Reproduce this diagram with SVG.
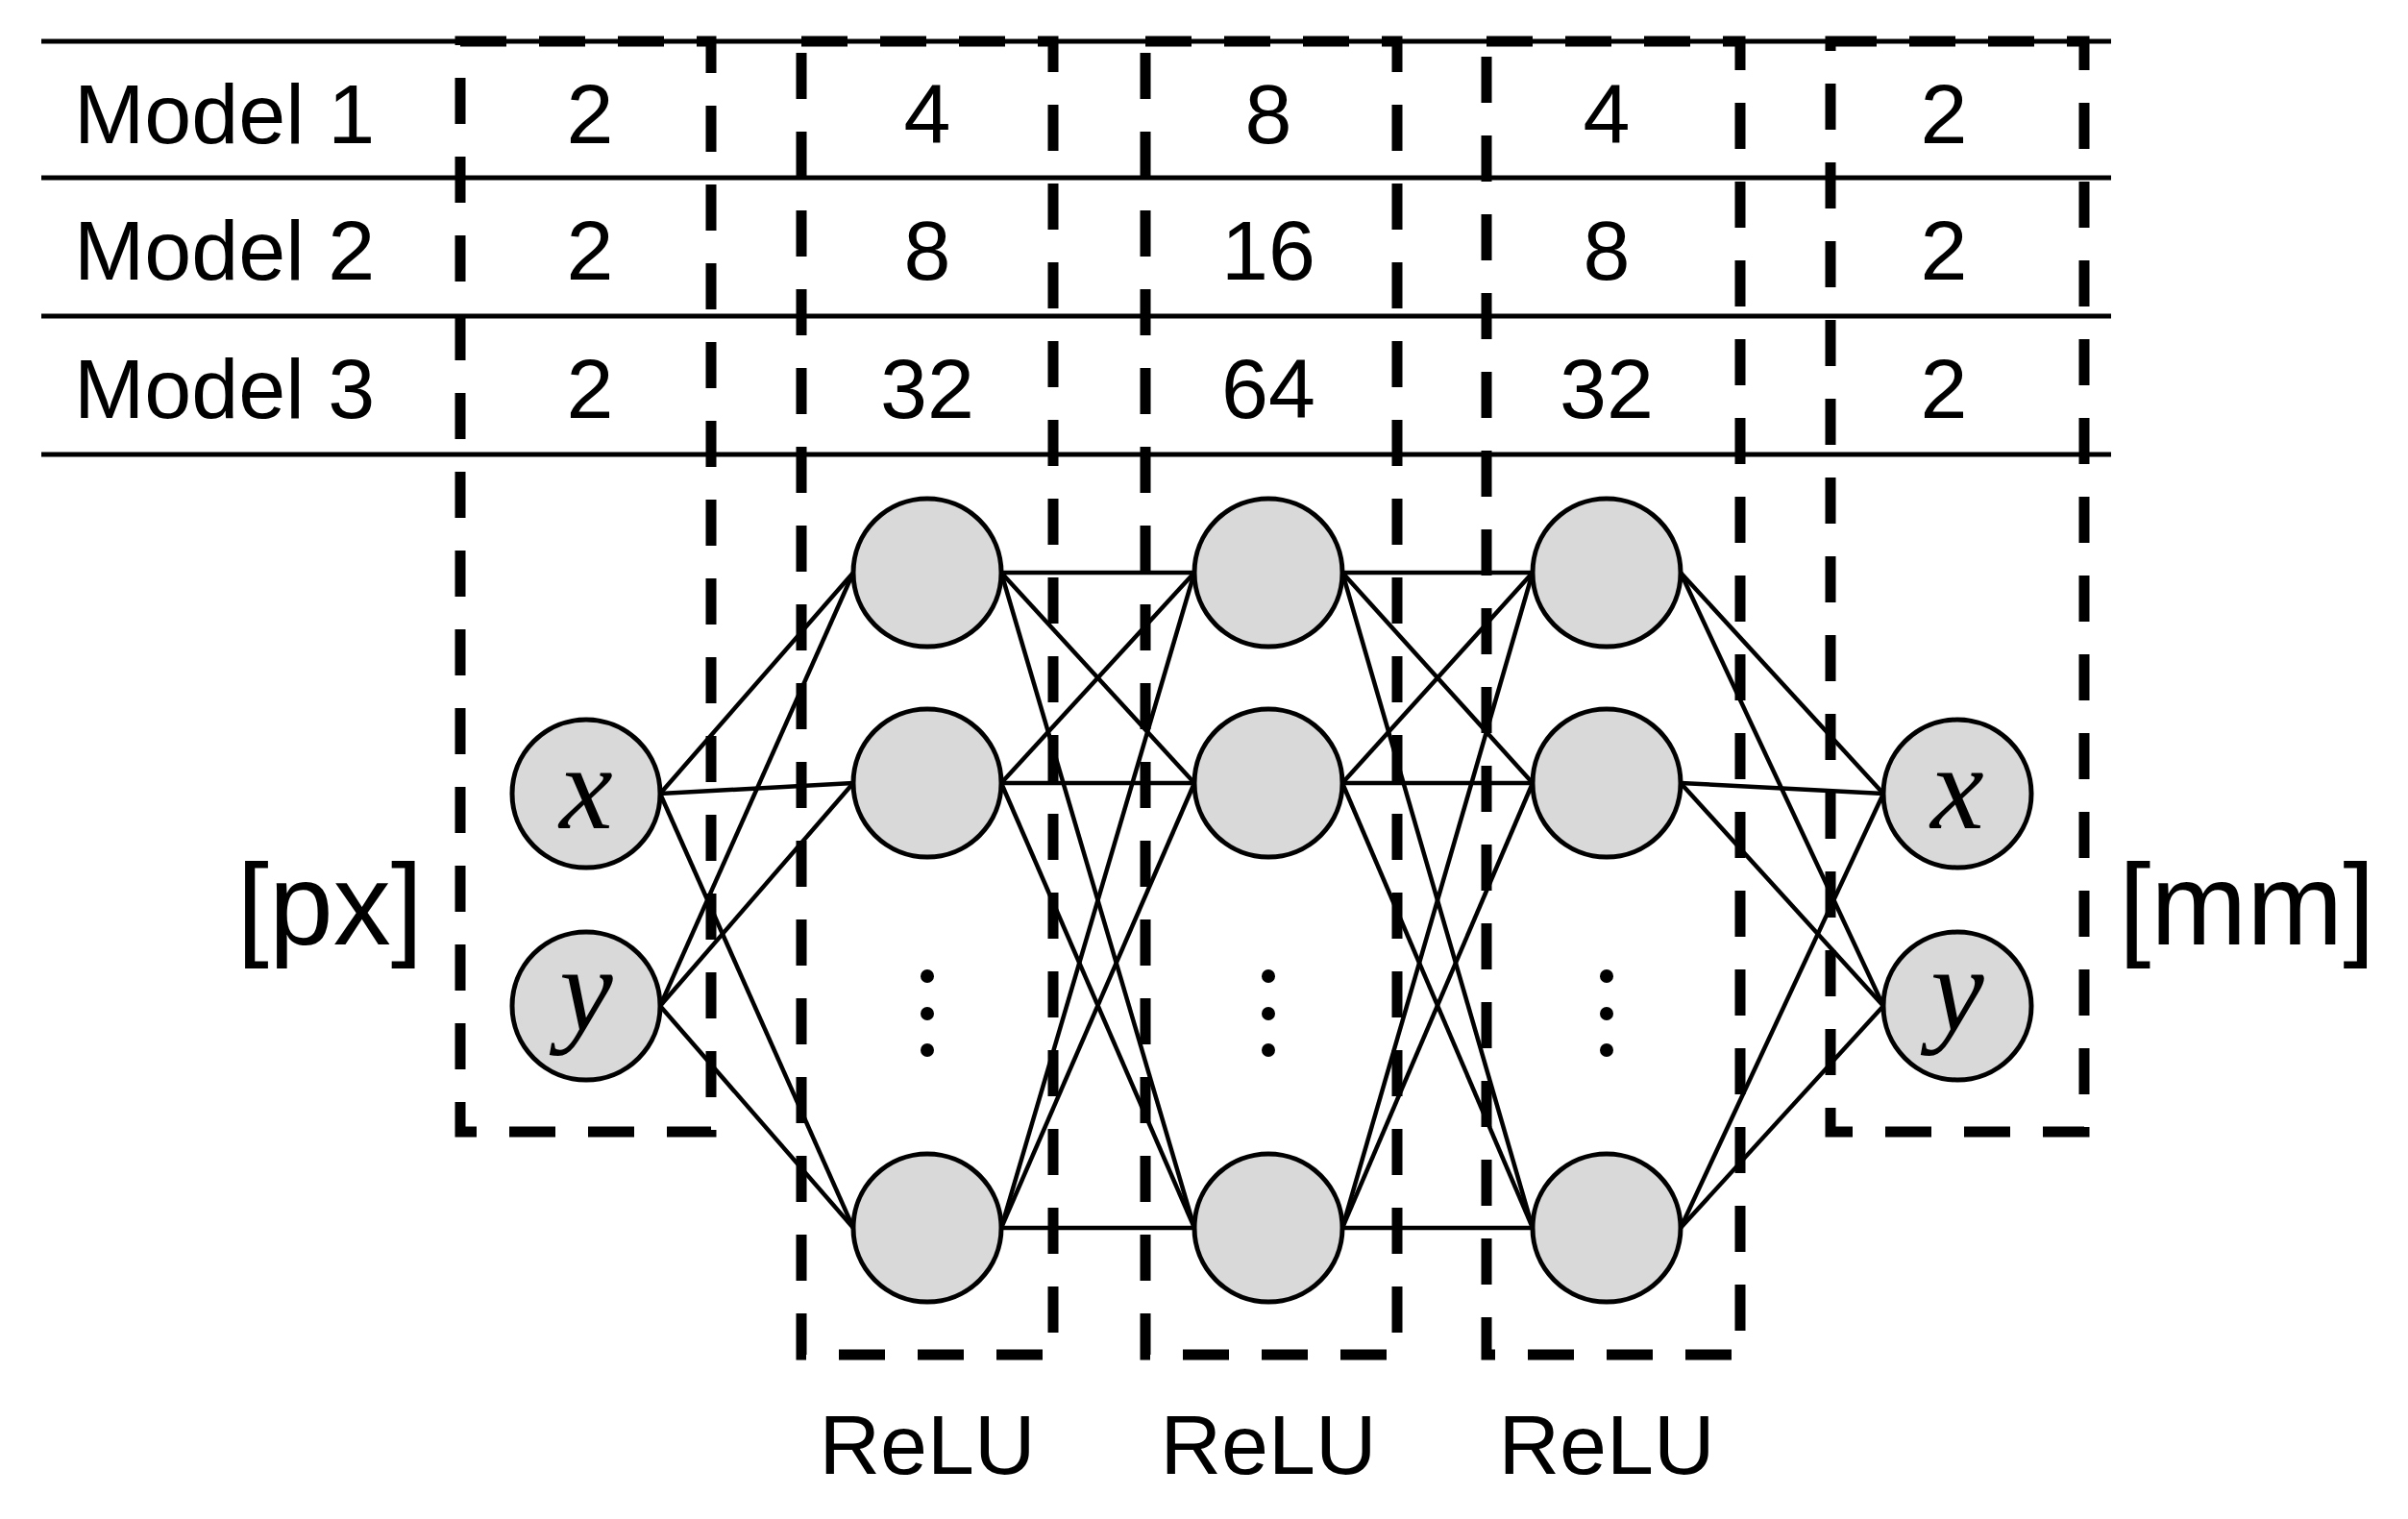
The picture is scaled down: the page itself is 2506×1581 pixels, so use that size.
<svg xmlns="http://www.w3.org/2000/svg" width="2506" height="1581" viewBox="0 0 2506 1581">
<style>
.t{font-family:"Liberation Sans",Arial,sans-serif;font-size:88px;fill:#000}
.c{text-anchor:middle}
.m{font-family:"Liberation Serif","DejaVu Serif",serif;font-style:italic;font-size:125px;text-anchor:middle}
.box{fill:none;stroke:#000;stroke-width:11;stroke-dasharray:48 34}
.hl{stroke:#000;stroke-width:5}
.n{fill:#d9d9d9;stroke:#000;stroke-width:5}
.e{stroke:#000;stroke-width:4.5}
</style>
<rect width="2506" height="1581" fill="#fff"/>
<g id="table">
<line class="hl" x1="43" y1="43" x2="2197" y2="43"/>
<line class="hl" x1="43" y1="185" x2="2197" y2="185"/>
<line class="hl" x1="43" y1="329" x2="2197" y2="329"/>
<line class="hl" x1="43" y1="473" x2="2197" y2="473"/>
<text class="t" x="77" y="149">Model 1</text>
<text class="t" x="77" y="291">Model 2</text>
<text class="t" x="77" y="435">Model 3</text>
<text class="t c" x="614" y="149">2</text><text class="t c" x="965" y="149">4</text><text class="t c" x="1320" y="149">8</text><text class="t c" x="1672" y="149">4</text><text class="t c" x="2023" y="149">2</text>
<text class="t c" x="614" y="291">2</text><text class="t c" x="965" y="291">8</text><text class="t c" x="1320" y="291">16</text><text class="t c" x="1672" y="291">8</text><text class="t c" x="2023" y="291">2</text>
<text class="t c" x="614" y="435">2</text><text class="t c" x="965" y="435">32</text><text class="t c" x="1320" y="435">64</text><text class="t c" x="1672" y="435">32</text><text class="t c" x="2023" y="435">2</text>
</g>
<g id="connectors">
<line class="e" x1="687" y1="826" x2="888" y2="596"/><line class="e" x1="687" y1="826" x2="888" y2="815"/><line class="e" x1="687" y1="826" x2="888" y2="1278"/>
<line class="e" x1="687" y1="1047" x2="888" y2="596"/><line class="e" x1="687" y1="1047" x2="888" y2="815"/><line class="e" x1="687" y1="1047" x2="888" y2="1278"/>
<line class="e" x1="1042" y1="596" x2="1243" y2="596"/><line class="e" x1="1042" y1="596" x2="1243" y2="815"/><line class="e" x1="1042" y1="596" x2="1243" y2="1278"/>
<line class="e" x1="1042" y1="815" x2="1243" y2="596"/><line class="e" x1="1042" y1="815" x2="1243" y2="815"/><line class="e" x1="1042" y1="815" x2="1243" y2="1278"/>
<line class="e" x1="1042" y1="1278" x2="1243" y2="596"/><line class="e" x1="1042" y1="1278" x2="1243" y2="815"/><line class="e" x1="1042" y1="1278" x2="1243" y2="1278"/>
<line class="e" x1="1397" y1="596" x2="1595" y2="596"/><line class="e" x1="1397" y1="596" x2="1595" y2="815"/><line class="e" x1="1397" y1="596" x2="1595" y2="1278"/>
<line class="e" x1="1397" y1="815" x2="1595" y2="596"/><line class="e" x1="1397" y1="815" x2="1595" y2="815"/><line class="e" x1="1397" y1="815" x2="1595" y2="1278"/>
<line class="e" x1="1397" y1="1278" x2="1595" y2="596"/><line class="e" x1="1397" y1="1278" x2="1595" y2="815"/><line class="e" x1="1397" y1="1278" x2="1595" y2="1278"/>
<line class="e" x1="1749" y1="596" x2="1960" y2="826"/><line class="e" x1="1749" y1="596" x2="1960" y2="1047"/>
<line class="e" x1="1749" y1="815" x2="1960" y2="826"/><line class="e" x1="1749" y1="815" x2="1960" y2="1047"/>
<line class="e" x1="1749" y1="1278" x2="1960" y2="826"/><line class="e" x1="1749" y1="1278" x2="1960" y2="1047"/>
</g>
<g id="boxes">
<rect class="box" x="479" y="43" width="261" height="1135"/>
<rect class="box" x="834" y="43" width="262" height="1367"/>
<rect class="box" x="1192" y="43" width="262" height="1367"/>
<rect class="box" x="1547" y="43" width="264" height="1367"/>
<rect class="box" x="1905" y="43" width="264" height="1135"/>
</g>
<g id="input">
<circle class="n" cx="610" cy="826" r="77"/><text class="m" x="610" y="862">x</text>
<circle class="n" cx="610" cy="1047" r="77"/><text class="m" x="610" y="1072">y</text>
</g>
<g id="hidden1">
<circle class="n" cx="965" cy="596" r="77"/><circle class="n" cx="965" cy="815" r="77"/><circle class="n" cx="965" cy="1278" r="77"/>
<circle cx="965" cy="1016" r="7"/><circle cx="965" cy="1055" r="7"/><circle cx="965" cy="1093" r="7"/>
</g>
<g id="hidden2">
<circle class="n" cx="1320" cy="596" r="77"/><circle class="n" cx="1320" cy="815" r="77"/><circle class="n" cx="1320" cy="1278" r="77"/>
<circle cx="1320" cy="1016" r="7"/><circle cx="1320" cy="1055" r="7"/><circle cx="1320" cy="1093" r="7"/>
</g>
<g id="hidden3">
<circle class="n" cx="1672" cy="596" r="77"/><circle class="n" cx="1672" cy="815" r="77"/><circle class="n" cx="1672" cy="1278" r="77"/>
<circle cx="1672" cy="1016" r="7"/><circle cx="1672" cy="1055" r="7"/><circle cx="1672" cy="1093" r="7"/>
</g>
<g id="output">
<circle class="n" cx="2037" cy="826" r="77"/><text class="m" x="2037" y="862">x</text>
<circle class="n" cx="2037" cy="1047" r="77"/><text class="m" x="2037" y="1072">y</text>
</g>
<g id="labels">
<text class="t" x="440" y="983" text-anchor="end" style="font-size:120px">[px]</text>
<text class="t" x="2205" y="983" style="font-size:120px">[mm]</text>
<text class="t c" x="965" y="1534">ReLU</text>
<text class="t c" x="1320" y="1534">ReLU</text>
<text class="t c" x="1672" y="1534">ReLU</text>
</g>
</svg>
